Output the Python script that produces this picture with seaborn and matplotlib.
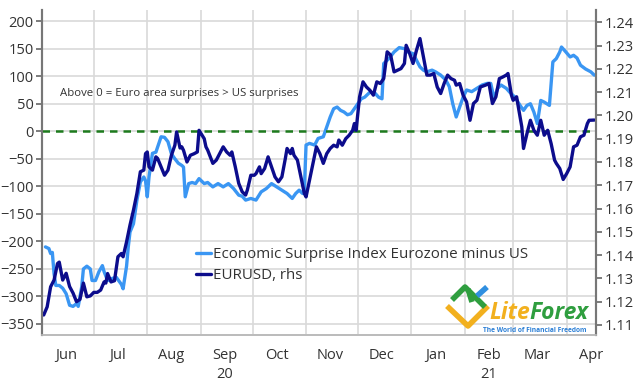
import numpy as np
import pandas as pd
import matplotlib
matplotlib.use("Agg")
import matplotlib.pyplot as plt
import matplotlib.dates as mdates
from matplotlib.lines import Line2D
import seaborn as sns

# data: days after 1 Jun 2020 and values
surprise_days = [2, 4, 5, 6, 7, 8, 10, 12, 14, 16, 18, 20, 21, 23, 24, 26, 28, 29, 31, 33,
                 35, 36, 38, 40, 43, 46, 47, 49, 50, 51, 53, 55, 57, 59, 60, 61, 62, 64, 66, 68,
                 69, 71, 73, 75, 77, 79, 81, 82, 83, 85, 87, 89, 91, 94, 96, 99, 102, 105, 108, 111,
                 114, 116, 118, 121, 124, 125, 127, 130, 133, 136, 139, 142, 145, 147, 149, 151, 152, 153, 155, 158,
                 160, 163, 165, 167, 169, 171, 173, 175, 177, 179, 181, 183, 185, 187, 190, 193, 195, 197, 198, 201,
                 204, 207, 210, 212, 215, 217, 219, 221, 223, 226, 228, 231, 234, 236, 238, 240, 242, 244, 246, 249,
                 252, 255, 258, 260, 262, 264, 266, 269, 271, 274, 277, 279, 281, 283, 285, 287, 289, 291, 294, 296,
                 298, 300, 301, 303, 306, 308, 310, 312, 315, 318, 320]
surprise_vals = [-210, -213, -222, -220, -259, -280, -280, -285, -295, -316, -318, -313, -318, -283, -250, -245, -250, -271, -271, -255,
                 -244, -255, -271, -268, -265, -278, -286, -245, -210, -183, -168, -125, -92, -83, -90, -119, -83, -40, -38, -19,
                 -10, -11, -19, -41, -50, -58, -62, -65, -119, -95, -93, -95, -86, -95, -93, -101, -95, -101, -95, -104,
                 -116, -118, -125, -122, -125, -120, -110, -104, -95, -101, -107, -113, -122, -113, -107, -113, -107, -25, -22, -25,
                 -13, -10, 8, 26, 41, 44, 38, 35, 30, 32, 41, 50, 59, 62, 71, 69, 62, 59, 123, 132,
                 144, 152, 150, 144, 141, 129, 117, 111, 108, 111, 108, 102, 93, 81, 50, 26, 44, 62, 75, 72,
                 78, 84, 87, 87, 59, 78, 84, 78, 71, 62, 47, 38, 47, 50, 35, 14, 56, 53, 47, 126,
                 132, 144, 153, 146, 135, 138, 133, 120, 113, 108, 102]

eurusd_days = [1, 3, 5, 7, 9, 10, 12, 14, 16, 18, 20, 22, 24, 26, 28, 30, 32, 34, 36, 37,
               38, 40, 42, 44, 46, 47, 49, 51, 53, 55, 57, 59, 60, 61, 62, 64, 66, 67, 69, 71,
               73, 75, 77, 78, 80, 81, 82, 84, 86, 88, 90, 91, 94, 95, 96, 99, 101, 103, 105, 107,
               109, 110, 112, 114, 116, 118, 119, 121, 123, 124, 126, 127, 129, 131, 133, 135, 137, 139, 141, 142,
               144, 145, 146, 148, 150, 152, 153, 155, 157, 159, 161, 163, 165, 167, 169, 171, 172, 174, 176, 178,
               180, 181, 182, 184, 186, 188, 190, 192, 194, 196, 198, 200, 202, 204, 206, 208, 210, 211, 213, 215,
               217, 219, 221, 223, 225, 227, 229, 231, 233, 235, 237, 239, 240, 242, 244, 246, 248, 250, 252, 254,
               257, 259, 261, 263, 265, 267, 269, 270, 272, 273, 275, 276, 278, 279, 281, 283, 285, 287, 289, 291,
               293, 295, 297, 298, 300, 302, 304, 306, 308, 310, 312, 314, 316, 317, 320]
eurusd_vals = [1.1143, 1.1178, 1.1264, 1.1293, 1.1364, 1.1370, 1.1293, 1.1322, 1.1265, 1.1237, 1.1200, 1.1210, 1.1280, 1.1221, 1.1225, 1.1240, 1.1240, 1.1250, 1.1285, 1.1280,
               1.1321, 1.1285, 1.1290, 1.1393, 1.1407, 1.1393, 1.1457, 1.1529, 1.1593, 1.1665, 1.1758, 1.1765, 1.1836, 1.1843, 1.1779, 1.1765, 1.1822, 1.1815, 1.1779, 1.1743,
               1.1765, 1.1829, 1.1872, 1.1929, 1.1860, 1.1865, 1.1850, 1.1800, 1.1829, 1.1835, 1.1843, 1.1936, 1.1900, 1.1865, 1.1851, 1.1794, 1.1808, 1.1836, 1.1865, 1.1843,
               1.1829, 1.1843, 1.1779, 1.1708, 1.1672, 1.1658, 1.1680, 1.1743, 1.1743, 1.1750, 1.1779, 1.1750, 1.1772, 1.1822, 1.1779, 1.1736, 1.1715, 1.1736, 1.1815, 1.1858,
               1.1836, 1.1858, 1.1829, 1.1808, 1.1736, 1.1665, 1.1650, 1.1722, 1.1794, 1.1865, 1.1836, 1.1794, 1.1836, 1.1858, 1.1872, 1.1865, 1.1894, 1.1872, 1.1900, 1.1915,
               1.1936, 1.1965, 1.1936, 1.2079, 1.2144, 1.2122, 1.2108, 1.2087, 1.2144, 1.2137, 1.2158, 1.2273, 1.2259, 1.2187, 1.2194, 1.2201, 1.2223, 1.2301, 1.2266, 1.2223,
               1.2280, 1.2330, 1.2251, 1.2173, 1.2173, 1.2180, 1.2122, 1.2094, 1.2137, 1.2173, 1.2158, 1.2151, 1.2130, 1.2137, 1.2087, 1.2058, 1.1979, 1.2051, 1.2065, 1.2122,
               1.2130, 1.2137, 1.2051, 1.2080, 1.2158, 1.2165, 1.2173, 1.2180, 1.2087, 1.2065, 1.2080, 1.2036, 1.1951, 1.1858, 1.1922, 1.1979, 1.1936, 1.1915, 1.1979, 1.1915,
               1.1936, 1.1879, 1.1808, 1.1794, 1.1772, 1.1725, 1.1750, 1.1779, 1.1865, 1.1872, 1.1908, 1.1915, 1.1965, 1.1979, 1.1980]

month_labels = ["Jun", "Jul", "Aug", "Sep\n20", "Oct", "Nov", "Dec", "Jan", "Feb\n21", "Mar", "Apr"]
left_ticks = list(range(-350, 201, 50))
right_ticks = [1.11, 1.12, 1.13, 1.14, 1.15, 1.16, 1.17, 1.18, 1.19, 1.20, 1.21, 1.22, 1.23, 1.24]

start = pd.Timestamp("2020-06-01")
surprise = pd.DataFrame({"date": start + pd.to_timedelta(surprise_days, unit="D"), "value": surprise_vals})
eurusd = pd.DataFrame({"date": start + pd.to_timedelta(eurusd_days, unit="D"), "value": eurusd_vals})

light_blue = "#3a96f3"
navy = "#0c0c8c"
txt = "#333333"

sns.set_style("white")
plt.rcParams["font.family"] = ["Open Sans", "DejaVu Sans"]

fig = plt.figure(figsize=(6.41, 3.90), dpi=100)
ax = fig.add_axes([0.0655, 0.141, 0.8643, 0.833])
ax2 = ax.twinx()

sns.lineplot(data=surprise, x="date", y="value", ax=ax, color=light_blue, linewidth=2.4,
             label="Economic Surprise Index Eurozone minus US", legend=False)
ax.axhline(0, color="#1d7a1d", linestyle=(0, (3, 2.4)), linewidth=1.8, zorder=3)
sns.lineplot(data=eurusd, x="date", y="value", ax=ax2, color=navy, linewidth=2.4,
             label="EURUSD, rhs", legend=False)

# x ticks: month starts (ticks + grid), labels mid-month
month_starts = pd.date_range("2020-06-01", periods=11, freq="MS")
ax.set_xticks(month_starts)
ax.xaxis.set_major_formatter(plt.NullFormatter())
ax.set_xticks(month_starts + pd.Timedelta(days=14), minor=True)
ax.set_xticklabels(month_labels, minor=True, fontsize=10.5, color=txt, linespacing=1.4)
ax.tick_params(axis="x", which="minor", length=0, pad=9)
ax.tick_params(axis="x", which="major", length=4, width=1.2, color="#888888", direction="out")

ax.set_yticks(left_ticks)
ax.tick_params(axis="y", labelsize=10.5, labelcolor=txt, length=4, width=1.2, color="#666666", pad=2, left=True)
ax2.set_yticks(right_ticks)
ax2.set_yticklabels([f"{t:.2f}" for t in right_ticks])
ax2.tick_params(axis="y", labelsize=10.5, labelcolor=txt, length=4, width=1.2, color="#666666", pad=2, right=True)

# axis limits (after ticks so they are not widened)
ax.set_xlim(pd.Timestamp("2020-06-01"), pd.Timestamp("2021-04-18"))
ax.set_ylim(-370, 220)
ax2.set_ylim(1.1057, 1.2452)

ax.grid(True, which="major", color="#d9d9d9", linewidth=1.2)
ax.set_axisbelow(True)
ax.set_xlabel("")
ax.set_ylabel("")
ax2.set_ylabel("")

for a in (ax, ax2):
    a.spines["top"].set_visible(False)
    a.spines["left"].set_color("#777777")
    a.spines["right"].set_color("#777777")
    a.spines["bottom"].set_color("#bbbbbb")
    a.spines["left"].set_linewidth(1.5)
    a.spines["right"].set_linewidth(1.5)
    a.spines["bottom"].set_linewidth(1.2)

ax.text(0.033, 0.743, "Above 0 = Euro area surprises > US surprises", transform=ax.transAxes,
        fontsize=8.2, color=txt, va="center", ha="left")

h1, l1 = ax.get_legend_handles_labels()
h2, l2 = ax2.get_legend_handles_labels()
leg = ax2.legend(h1 + h2, l1 + l2, loc="upper left", bbox_to_anchor=(0.267, 0.29), frameon=False,
                 fontsize=10.9, handlelength=1.0, handletextpad=0.15, labelspacing=0.4,
                 borderaxespad=0)
for t in leg.get_texts():
    t.set_color(txt)

# watermark logo (rough)
W, H = 641, 390
def px(xs, ys):
    return [x / W for x in xs], [1 - y / H for y in ys]

for xs, ys, c in [([447, 468, 488], [306, 326, 306], "#f2b01e"),
                  ([452, 465, 485], [300, 287, 307], "#2f9e3f"),
                  ([468, 472], [289, 302], "#2f9e3f"),
                  ([477, 487], [296, 287], "#2f8fe0")]:
    fx, fy = px(xs, ys)
    fig.add_artist(Line2D(fx, fy, color=c, linewidth=4, solid_capstyle="butt"))

lite = fig.text(489 / W, 1 - 313 / H, "Lite", fontsize=16.5, fontweight="bold", fontstyle="italic",
                color="#f2b01e", ha="left", va="center")
fig.canvas.draw()
bb = lite.get_window_extent()
fig.text(bb.x1 / W, 1 - 313 / H, "Forex", fontsize=16.5, fontweight="bold", fontstyle="italic",
         color="#2f9e3f", ha="left", va="center")
fig.text(483 / W, 1 - 330 / H, "The World of Financial Freedom", fontsize=4.8, fontweight="bold",
         color="#2b7fd6", ha="left", va="center")

fig.savefig("out.png", dpi=100)
